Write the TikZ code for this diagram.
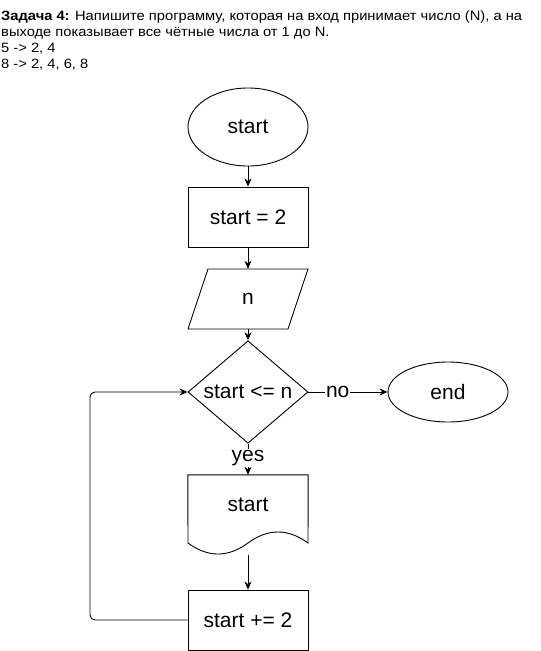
\documentclass[tikz,border=0pt]{standalone}
\usepackage{fontspec}
\setmainfont{Liberation Sans}
\newfontfamily\taskfont[FakeStretch=1.09]{Liberation Sans}
\usetikzlibrary{shapes.geometric,arrows.meta}

\begin{document}
\begin{tikzpicture}[x=1pt,y=-1pt,
        every node/.style={font=\fontsize{21}{24}\selectfont},
        outline/.style={line width=0.9pt},
        arrow/.style={outline,-{Stealth[length=8pt,width=7pt,inset=2.5pt]}},
        terminal/.style={ellipse,draw,outline,minimum width=120pt,inner sep=0pt},
        process/.style={rectangle,draw,outline,minimum width=120pt,minimum height=60pt},
        decision/.style={diamond,draw,outline,minimum width=120pt,minimum height=80pt,inner sep=0pt},
        tasktext/.style={anchor=base west,inner sep=0pt,font=\taskfont\fontsize{13.5}{16}\selectfont},
        label/.style={fill=white,inner sep=1pt}]
    \useasboundingbox (0,0) rectangle (541,651);

    % task text
    \node[tasktext] (task1) at (1,20) {\textbf{Задача 4:} Напишите программу, которая на вход принимает число (N), а на};
    \node[tasktext] (task2) at (1,36) {выходе показывает все чётные числа от 1 до N.};
    \node[tasktext] (task3) at (1,52) {5 -> 2, 4};
    \node[tasktext] (task4) at (1,68) {8 -> 2, 4, 6, 8};

    % flowchart
    \node[terminal,minimum height=78pt] (begin) at (248,127) {start};
    \node[process] (init) at (248,217) {start = 2};
    \node[inner sep=0pt,minimum width=120pt,minimum height=60pt] (input) at (248,299) {n};
    \draw[outline] (208,269) -- (308,269) -- (288,329) -- (188,329) -- cycle;
    \node[decision] (cond) at (248,392) {start <= n};
    \node[terminal,minimum height=60pt] (finish) at (448,392) {end};
    \node[inner sep=0pt,minimum width=120pt,minimum height=80pt] (out) at (248,515) {};
    \node at (248,505) {start};
    \draw[outline] (out.north west) -- (out.north east) -- (308,543)
        .. controls (288,528.3) and (268,528.3) .. (248,543)
        .. controls (228,557.7) and (208,557.7) .. (188,543) -- cycle;
    \node[process] (step) at (248,620) {start += 2};

    % connectors
    \draw[arrow] (begin) -- (init);
    \draw[arrow] (init) -- (input);
    \draw[arrow] (input) -- (cond);
    \draw[arrow] (cond) -- node[label,pos=0.37] {no} (finish);
    \draw[arrow] (cond.south) -- node[label,pos=0.47] {yes} (out.north);
    \draw[arrow] (248,555) -- (step);
    \draw[arrow,rounded corners=5pt] (step.west) -- (90,620) -- (90,392) -- (cond.west);
\end{tikzpicture}
\end{document}
